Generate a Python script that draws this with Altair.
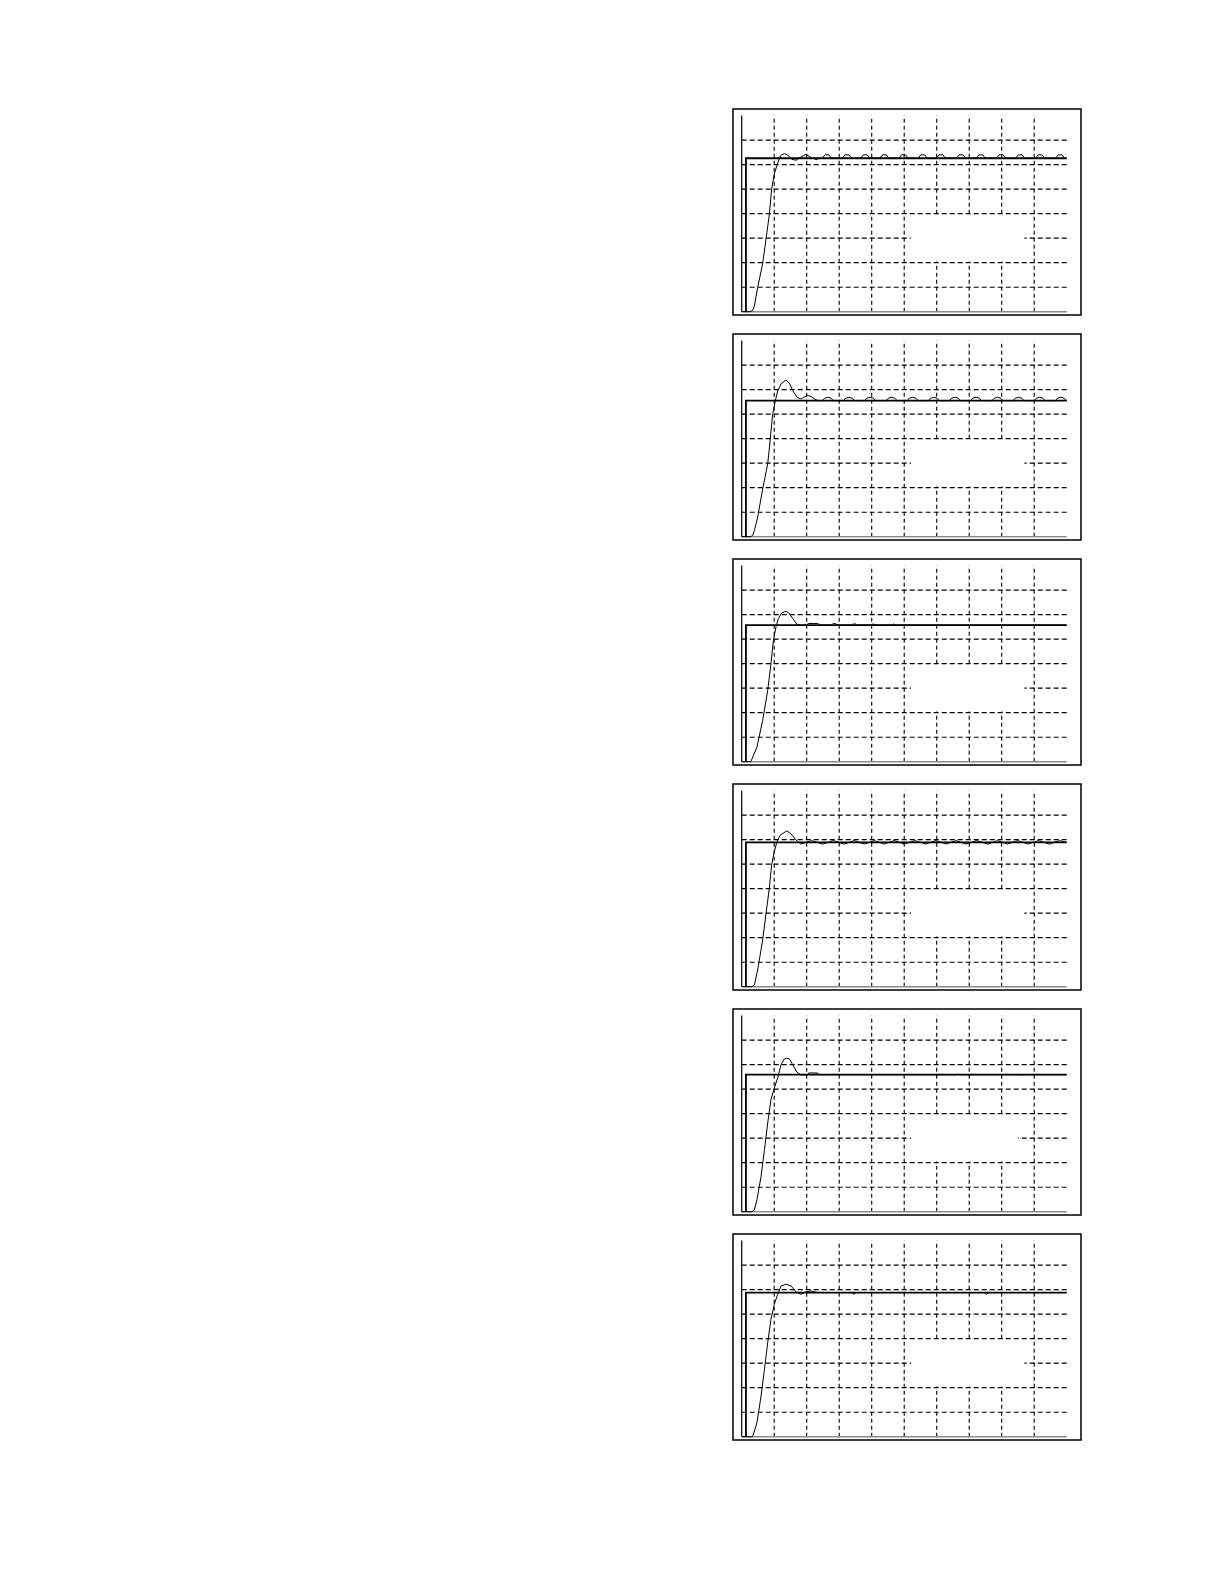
import altair as alt
import pandas as pd

# ---- grid / axes values ----
h_grid = [1, 2, 3, 4, 5, 6, 7]
v_grid = [1, 2, 3, 4, 5, 6, 7, 8, 9]
x_max = 10.0
y_max = 8.0

# blank (erased legend) area in each panel
gap_x0 = [5.21, 5.21, 5.21, 5.21, 5.21, 5.21]
gap_x1 = [8.70, 8.70, 8.70, 8.70, 8.50, 8.70]
gap_y0 = [2.05, 2.05, 2.05, 2.05, 2.05, 2.05]
gap_y1 = [3.95, 3.95, 3.95, 3.95, 3.95, 3.95]

# ---- set-point steps ----
step_x = 0.13
step_levels = [6.26, 5.55, 5.57, 5.89, 5.59, 5.88]

# ---- responses ----
p1_x = [0.00, 0.24, 0.34, 0.39, 0.49, 0.645, 0.75, 0.85, 0.92, 1.00, 1.09, 1.19, 1.31, 1.41, 1.54, 1.67, 1.82, 1.98, 2.13, 2.29, 2.40,
        2.48, 2.56, 2.68, 2.76,
        3.10, 3.18, 3.30, 3.38,
        3.66, 3.74, 3.86, 3.94,
        4.25, 4.33, 4.45, 4.53,
        4.84, 4.92, 5.04, 5.12,
        5.43, 5.51, 5.63, 5.71,
        5.99, 6.07, 6.19, 6.27,
        6.61, 6.69, 6.81, 6.89,
        7.22, 7.30, 7.42, 7.50,
        7.84, 7.92, 8.04, 8.12,
        8.43, 8.51, 8.63, 8.71,
        9.04, 9.12, 9.24, 9.32,
        9.66, 9.74, 9.86, 9.94,
        10.00]
p1_y = [0.00, 0.00, 0.05, 0.23, 0.98, 1.97, 2.98, 3.97, 4.99, 5.60, 5.99, 6.36, 6.45, 6.40, 6.22, 6.18, 6.31, 6.42, 6.29, 6.21, 6.26,
        6.26, 6.40, 6.40, 6.26,
        6.26, 6.40, 6.40, 6.26,
        6.26, 6.40, 6.40, 6.26,
        6.26, 6.40, 6.40, 6.26,
        6.26, 6.40, 6.40, 6.26,
        6.26, 6.40, 6.40, 6.26,
        6.26, 6.40, 6.40, 6.26,
        6.26, 6.40, 6.40, 6.26,
        6.26, 6.40, 6.40, 6.26,
        6.26, 6.40, 6.40, 6.26,
        6.26, 6.40, 6.40, 6.26,
        6.26, 6.40, 6.40, 6.26,
        6.26, 6.40, 6.40, 6.26,
        6.26]

p2_x = [0.00, 0.27, 0.34, 0.39, 0.49, 0.645, 0.80, 0.88, 0.95, 1.035, 1.11, 1.21, 1.36, 1.47, 1.57, 1.70, 1.82, 2.01, 2.13, 2.29, 2.40,
        2.48, 2.55, 2.65, 2.75, 2.82,
        3.13, 3.20, 3.30, 3.40, 3.47,
        3.78, 3.85, 3.95, 4.05, 4.12,
        4.44, 4.51, 4.61, 4.71, 4.78,
        5.09, 5.16, 5.26, 5.36, 5.43,
        5.74, 5.81, 5.91, 6.01, 6.08,
        6.39, 6.46, 6.56, 6.66, 6.73,
        7.04, 7.11, 7.21, 7.31, 7.38,
        7.70, 7.77, 7.87, 7.97, 8.04,
        8.35, 8.42, 8.52, 8.62, 8.69,
        9.00, 9.07, 9.17, 9.27, 9.34,
        9.65, 9.72, 9.82, 9.92, 9.99,
        10.00]
p2_y = [0.00, 0.00, 0.05, 0.25, 0.79, 1.95, 2.97, 3.99, 4.98, 5.55, 5.96, 6.23, 6.40, 6.26, 5.96, 5.69, 5.62, 5.77, 5.72, 5.58, 5.55,
        5.55, 5.65, 5.69, 5.65, 5.55,
        5.55, 5.65, 5.69, 5.65, 5.55,
        5.55, 5.65, 5.69, 5.65, 5.55,
        5.55, 5.65, 5.69, 5.65, 5.55,
        5.55, 5.65, 5.69, 5.65, 5.55,
        5.55, 5.65, 5.69, 5.65, 5.55,
        5.55, 5.65, 5.69, 5.65, 5.55,
        5.55, 5.65, 5.69, 5.65, 5.55,
        5.55, 5.65, 5.69, 5.65, 5.55,
        5.55, 5.65, 5.69, 5.65, 5.55,
        5.55, 5.65, 5.69, 5.65, 5.55,
        5.55, 5.65, 5.69, 5.65, 5.55,
        5.55]

p3_x = [0.00, 0.28, 0.47, 0.645, 0.80, 0.90, 0.974, 1.055, 1.127, 1.23,
        1.36, 1.47, 1.57, 1.70, 1.82, 1.98, 2.05, 2.34, 2.42,
        2.76, 2.80, 2.90, 2.94,
        3.40, 3.44, 3.50, 3.54,
        3.97, 4.01, 4.06, 4.10,
        4.37, 4.39, 4.41,
        4.66, 4.67, 4.68,
        10.00]
p3_y = [0.00, 0.00, 0.60, 1.69, 2.91, 4.00, 4.95, 5.50, 5.84, 6.07,
        6.14, 6.04, 5.84, 5.61, 5.56, 5.57, 5.64, 5.64, 5.57,
        5.57, 5.63, 5.63, 5.57,
        5.57, 5.62, 5.62, 5.57,
        5.57, 5.61, 5.61, 5.57,
        5.57, 5.60, 5.57,
        5.57, 5.63, 5.57,
        5.57]

p4_x = [0.00, 0.31, 0.39, 0.49, 0.645, 0.75, 0.85, 0.92, 1.004, 1.086, 1.19, 1.39, 1.52, 1.67,
        1.82, 1.98, 2.15, 2.32, 2.49, 2.66, 2.82, 2.99, 3.16, 3.31, 3.46, 3.62,
        3.77, 3.93, 4.08, 4.24, 4.39, 4.54, 4.69, 4.85, 5.00, 5.17, 5.33, 5.50,
        5.67, 5.82, 5.98, 6.14, 6.29, 6.44, 6.59, 6.75, 6.90, 7.07, 7.23, 7.40,
        7.57, 7.72, 7.87, 8.03, 8.18, 8.33, 8.49, 8.65, 8.80, 8.97, 9.13, 9.30,
        9.47, 9.62, 9.78, 9.90, 10.00]
p4_y = [0.00, 0.00, 0.07, 0.68, 1.91, 3.00, 4.02, 4.97, 5.51, 5.93, 6.19, 6.36, 6.23, 5.99,
        5.82, 5.89, 5.96, 5.89, 5.82, 5.89, 5.96, 5.89, 5.82, 5.89, 5.96, 5.89,
        5.82, 5.89, 5.96, 5.89, 5.82, 5.89, 5.96, 5.89, 5.82, 5.89, 5.96, 5.89,
        5.82, 5.89, 5.96, 5.89, 5.82, 5.89, 5.96, 5.89, 5.82, 5.89, 5.96, 5.89,
        5.82, 5.89, 5.96, 5.89, 5.82, 5.89, 5.96, 5.89, 5.82, 5.89, 5.96, 5.89,
        5.82, 5.89, 5.96, 5.92, 5.89]

p5_x = [0.00, 0.31, 0.39, 0.47, 0.595, 0.70, 0.80, 0.90, 1.004, 1.107,
        1.21, 1.31, 1.39, 1.47, 1.57, 1.70, 1.82, 2.05, 2.06, 2.34,
        2.35, 6.60, 6.63, 6.66, 8.62, 8.65, 8.68, 10.00]
p5_y = [0.00, 0.00, 0.08, 0.49, 1.44, 2.53, 3.62, 4.57, 5.05, 5.46,
        6.00, 6.23, 6.26, 6.23, 6.00, 5.69, 5.58, 5.59, 5.66, 5.66,
        5.59, 5.59, 5.62, 5.59, 5.59, 5.57, 5.59, 5.59]

p6_x = [0.00, 0.31, 0.34, 0.47, 0.595, 0.70, 0.80, 0.90, 1.004, 1.107,
        1.21, 1.36, 1.52, 1.67, 1.82, 1.98, 2.13, 2.29, 2.40,
        3.38, 3.45, 3.52, 7.47, 7.54, 7.61, 10.00]
p6_y = [0.00, 0.00, 0.02, 0.57, 1.66, 2.75, 3.84, 4.79, 5.40, 5.81,
        6.15, 6.22, 6.15, 5.91, 5.81, 5.91, 5.95, 5.89, 5.88,
        5.88, 5.81, 5.88, 5.88, 5.81, 5.88, 5.88]

responses = [(p1_x, p1_y), (p2_x, p2_y), (p3_x, p3_y), (p4_x, p4_y), (p5_x, p5_y), (p6_x, p6_y)]

X_DOM = [-0.268, 10.44]
Y_DOM = [-0.135, 8.27]
H_DASH = [5, 3]
V_DASH = [4, 3]


def make_panel(k):
    xs = alt.Scale(domain=X_DOM, nice=False, zero=False)
    ys = alt.Scale(domain=Y_DOM, nice=False, zero=False)

    hg = pd.DataFrame({"v": h_grid, "a": 0.0, "b": x_max})
    vg = pd.DataFrame({"v": v_grid, "a": 0.0, "b": y_max})
    hgrid = alt.Chart(hg).mark_rule(color="black", strokeWidth=1.1, strokeDash=H_DASH).encode(
        x=alt.X("a:Q", scale=xs, axis=None), x2="b:Q",
        y=alt.Y("v:Q", scale=ys, axis=None))
    vgrid = alt.Chart(vg).mark_rule(color="black", strokeWidth=1.1, strokeDash=V_DASH).encode(
        x=alt.X("v:Q", scale=xs, axis=None),
        y=alt.Y("a:Q", scale=ys, axis=None), y2="b:Q")

    gap = pd.DataFrame({"x0": [gap_x0[k]], "x1": [gap_x1[k]], "y0": [gap_y0[k]], "y1": [gap_y1[k]]})
    blank = alt.Chart(gap).mark_rect(color="white").encode(
        x=alt.X("x0:Q", scale=xs, axis=None), x2="x1:Q",
        y=alt.Y("y0:Q", scale=ys, axis=None), y2="y1:Q")

    xa = pd.DataFrame({"a": [0.0], "b": [x_max], "y": [0.0]})
    xaxis = alt.Chart(xa).mark_rule(color="#8a8a8a", strokeWidth=1.5).encode(
        x=alt.X("a:Q", scale=xs, axis=None), x2="b:Q",
        y=alt.Y("y:Q", scale=ys, axis=None))
    ya = pd.DataFrame({"x": [0.0], "a": [0.0], "b": [y_max]})
    yaxis = alt.Chart(ya).mark_rule(color="black", strokeWidth=1.2).encode(
        x=alt.X("x:Q", scale=xs, axis=None),
        y=alt.Y("a:Q", scale=ys, axis=None), y2="b:Q")

    lvl = step_levels[k]
    st = pd.DataFrame({"x": [step_x, step_x, x_max], "y": [0.0, lvl, lvl], "i": [0, 1, 2]})
    step = alt.Chart(st).mark_line(color="black", strokeWidth=1.8).encode(
        x=alt.X("x:Q", scale=xs, axis=None),
        y=alt.Y("y:Q", scale=ys, axis=None), order="i:Q")

    rx, ry = responses[k]
    rd = pd.DataFrame({"x": rx, "y": ry, "i": list(range(len(rx)))})
    resp = alt.Chart(rd).mark_line(color="black", strokeWidth=1).encode(
        x=alt.X("x:Q", scale=xs, axis=None),
        y=alt.Y("y:Q", scale=ys, axis=None), order="i:Q")

    return alt.layer(hgrid, vgrid, blank, xaxis, yaxis, step, resp).properties(width=348, height=206)


chart = alt.vconcat(*[make_panel(k) for k in range(6)], spacing=16).properties(
    padding={"left": 724, "top": 100, "right": 10, "bottom": 10},
    background="white",
).configure_view(stroke="black", strokeWidth=1.5)

chart.save("out.html", embed_options={"renderer": "svg", "actions": False})
